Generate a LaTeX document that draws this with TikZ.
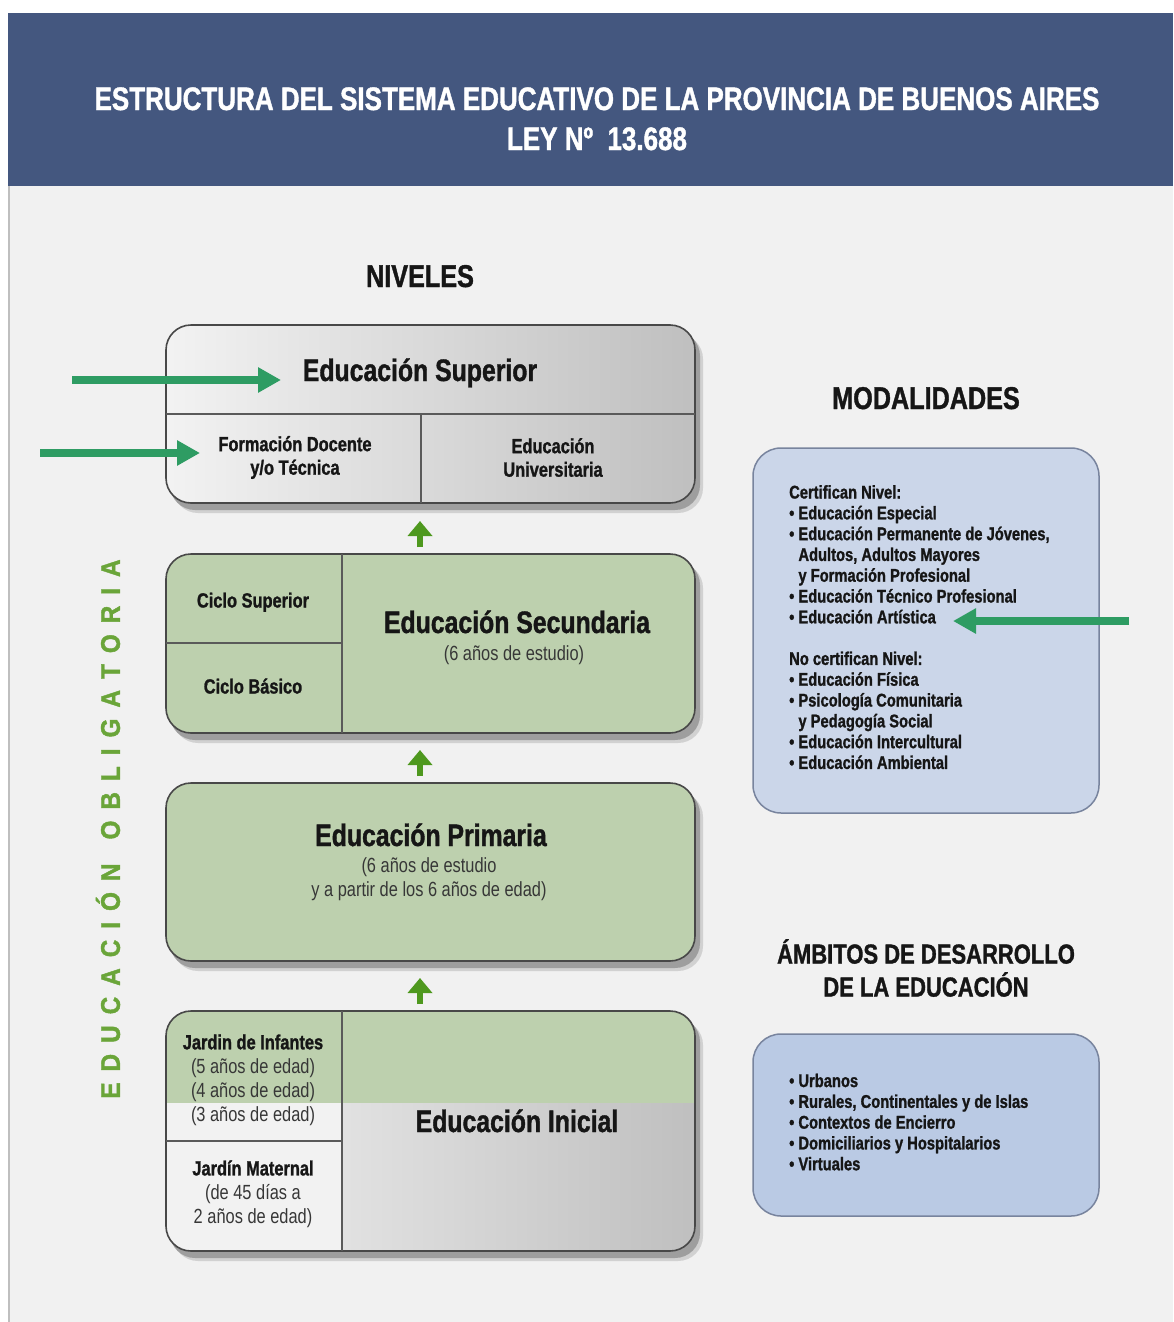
\documentclass[tikz,border=0pt]{standalone}
\usepackage{fontspec}
\setmainfont{Liberation Sans}[FakeStretch=0.8,BoldFeatures={FakeBold=1.2}]
\newfontfamily\vfont{Liberation Sans}[FakeStretch=0.9,BoldFeatures={FakeBold=1.5}]
\usetikzlibrary{arrows.meta,calc}
\definecolor{hdr}{RGB}{68,87,127}
\definecolor{bgc}{RGB}{241,241,241}
\definecolor{grn}{RGB}{189,208,174}
\definecolor{bordc}{RGB}{72,72,72}
\definecolor{upg}{RGB}{78,152,30}
\definecolor{ann}{RGB}{46,156,99}
\definecolor{vg}{RGB}{106,165,57}
\definecolor{modc}{RGB}{203,214,233}
\definecolor{ambc}{RGB}{186,202,228}
\definecolor{modb}{RGB}{120,132,158}
\definecolor{txt}{RGB}{22,22,22}
\definecolor{subt}{RGB}{55,55,55}
\newcommand\vgap{\hspace{11pt}}
\begin{document}
\begin{tikzpicture}[x=1pt,y=-1pt,
  lvl/.style={draw=bordc,line width=1.6pt,rounded corners=25pt,inner sep=0pt,outer sep=0pt},
  shad/.style={fill=black!38,rounded corners=25pt},
  shad2/.style={fill=black!18,rounded corners=25pt},
  divl/.style={draw=bordc!90,line width=1.3pt},
  big/.style={font=\fontsize{31}{36}\selectfont\bfseries,text=txt,inner sep=0pt,anchor=base},
  sm/.style={font=\fontsize{20.5}{23.5}\selectfont\bfseries,text=txt,align=center,inner sep=0pt},
  reg/.style={font=\fontsize{20.5}{24}\selectfont,text=subt,align=center,inner sep=0pt},
  heading/.style={font=\fontsize{31.5}{36}\selectfont\bfseries,text=txt,inner sep=0pt,anchor=base},
  lst/.style={font=\fontsize{18.4}{20.8}\selectfont\bfseries,text=txt,align=left,inner sep=0pt,anchor=north west},
  uparr/.style={draw=upg,line width=5.5pt,-{Triangle[width=24pt,length=15pt]}},
  annarr/.style={draw=ann,line width=7.5pt,-{Triangle[width=24pt,length=23pt]}},
  modbox/.style={draw=modb,line width=1.5pt,rounded corners=28pt,inner sep=0pt}
]
\useasboundingbox (0,0) rectangle (1173,1322);
\fill[white] (0,0) rectangle (1173,1322);
\fill[bgc] (8,186) rectangle (1173,1322);
\draw[black!25,line width=1.5pt] (8.75,186) -- (8.75,1322);
\fill[hdr] (8,13) rectangle (1173,186);

% header
\node[font=\fontsize{32.5}{36}\selectfont\bfseries,text=white,inner sep=0pt,anchor=base] (t1) at (597,110) {ESTRUCTURA DEL SISTEMA EDUCATIVO DE LA PROVINCIA DE BUENOS AIRES};
\node[font=\fontsize{32.5}{36}\selectfont\bfseries,text=white,inner sep=0pt,anchor=base] (t2) at (597,150) {LEY Nº\ \ 13.688};

% headings
\node[heading] (niv) at (420,287) {NIVELES};
\node[heading] (mod) at (926,409) {MODALIDADES};
\node[font=\fontsize{27.5}{33}\selectfont\bfseries,text=txt,align=center,inner sep=0pt] (amb) at (926,968) {ÁMBITOS DE DESARROLLO\\DE LA EDUCACIÓN};

% shadows
\foreach \a/\b in {325/503,554/733,783/961,1011/1251}{
  \fill[shad2] (173,\a+9) rectangle (703,\b+10);
  \fill[shad] (170,\a+6) rectangle (700,\b+7);
}

% Superior
\node[lvl,left color=black!5,right color=black!25,minimum width=529pt,minimum height=178pt] (supB) at (430.5,414) {};
\draw[divl] (166,414) -- (695,414);
\draw[divl] (421,414) -- (421,503);
\node[big] (supT) at (420,381) {Educación Superior};
\node[sm] (fd) at (295,457.5) {Formación Docente\\y/o Técnica};
\node[sm] (eu) at (553,457.5) {Educación\\Universitaria};

% Secundaria
\node[lvl,fill=grn,minimum width=529pt,minimum height=179pt] (secB) at (430.5,643.5) {};
\draw[divl] (342,554) -- (342,733);
\draw[divl] (166,643) -- (342,643);
\node[sm,anchor=base] (cs) at (253,607.5) {Ciclo Superior};
\node[sm,anchor=base] (cb) at (253,693.5) {Ciclo Básico};
\node[big] (secT) at (517,633) {Educación Secundaria};
\node[reg,anchor=base] (secS) at (514,660) {(6 años de estudio)};

% Primaria
\node[lvl,fill=grn,minimum width=529pt,minimum height=178pt] (priB) at (430.5,872) {};
\node[big] (priT) at (431,846) {Educación Primaria};
\node[reg] (priS) at (429,879) {(6 años de estudio\\y a partir de los 6 años de edad)};

% Inicial
\begin{scope}
\clip[rounded corners=25pt] (166,1011) rectangle (695,1251);
\shade[left color=black!5,right color=black!25] (166,1011) rectangle (695,1251);
\fill[grn] (166,1011) rectangle (695,1103);
\fill[black!5] (166,1103) rectangle (342,1251);
\end{scope}
\node[lvl,minimum width=529pt,minimum height=240pt] (iniB) at (430.5,1131) {};
\draw[divl] (342,1011) -- (342,1251);
\draw[divl] (166,1141) -- (342,1141);
\node[reg] (jdi) at (253,1080) {{\bfseries\color{txt}Jardin de Infantes}\\(5 años de edad)\\(4 años de edad)\\(3 años de edad)};
\node[reg] (jm) at (253,1194) {{\bfseries\color{txt}Jardín Maternal}\\(de 45 días a\\2 años de edad)};
\node[big] (iniT) at (517,1132) {Educación Inicial};

% up arrows
\draw[uparr] ($(secB.north)+(-10.5,-7)$) -- ($(secB.north)+(-10.5,-33)$);
\draw[uparr] ($(priB.north)+(-10.5,-7)$) -- ($(priB.north)+(-10.5,-33)$);
\draw[uparr] ($(iniB.north)+(-10.5,-7)$) -- ($(iniB.north)+(-10.5,-33)$);

% modalidades
\node[modbox,fill=modc,minimum width=346pt,minimum height=365pt] (modB) at (926,630.5) {};
\node[lst] (modL) at (789,485) {Certifican Nivel:\\
• Educación Especial\\
• Educación Permanente de Jóvenes,\\
\hphantom{• }Adultos, Adultos Mayores\\
\hphantom{• }y Formación Profesional\\
• Educación Técnico Profesional\\
• Educación Artística\\[20.8pt]
No certifican Nivel:\\
• Educación Física\\
• Psicología Comunitaria\\
\hphantom{• }y Pedagogía Social\\
• Educación Intercultural\\
• Educación Ambiental};

% ambitos
\node[modbox,fill=ambc,minimum width=346pt,minimum height=182pt] (ambB) at (926,1125) {};
\node[lst] (ambL) at (789,1073.5) {• Urbanos\\
• Rurales, Continentales y de Islas\\
• Contextos de Encierro\\
• Domiciliarios y Hospitalarios\\
• Virtuales};

% vertical label
\node[rotate=90,text=vg,inner sep=0pt,font=\vfont\fontsize{27}{27}\selectfont\bfseries] (vert) at (108,829)
 {E\vgap D\vgap U\vgap C\vgap A\vgap C\vgap I\vgap Ó\vgap N\hspace{24pt}O\vgap B\vgap L\vgap I\vgap G\vgap A\vgap T\vgap O\vgap R\vgap I\vgap A};

% annotation arrows
\coordinate (a1s) at (72,380);  \coordinate (a1e) at (281,380);
\coordinate (a2s) at (40,453);  \coordinate (a2e) at (200,453);
\coordinate (a3s) at (1129,621); \coordinate (a3e) at (953,621);
\draw[annarr] (a1s) -- (a1e);
\draw[annarr] (a2s) -- (a2e);
\draw[annarr] (a3s) -- (a3e);
\end{tikzpicture}
\end{document}
